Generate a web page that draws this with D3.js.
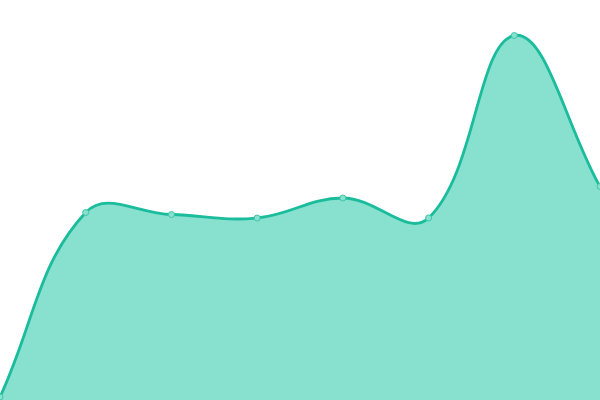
<!DOCTYPE html>
<html><head><meta charset="utf-8">
<script src="https://cdn.jsdelivr.net/npm/d3@7"></script>
<style>html,body{margin:0;padding:0;background:#fff;}svg{display:block;}</style>
</head><body>
<svg id="chart" width="600" height="400"></svg>
<script>
const categories = ["A","B","C","D","E","F","G","H"];
const values = [3, 187.5, 185.5, 182, 202, 182, 364.5, 213.5];

const W = 600, H = 400;
const TENSION = 0.4;
const svg = d3.select("#chart");
const x = d3.scalePoint().domain(categories).range([0, W]);
const y = d3.scaleLinear().domain([0, 400]).range([H, 0]);
const pts = categories.map((c,i)=>({x: x(c), y: y(values[i])}));

// spline control points weighted by neighbour distances
function controls(p) {
  const n = p.length;
  return p.map((cur, i) => {
    const prev = p[Math.max(i-1, 0)], next = p[Math.min(i+1, n-1)];
    const d01 = Math.hypot(cur.x-prev.x, cur.y-prev.y);
    const d12 = Math.hypot(next.x-cur.x, next.y-cur.y);
    let s01 = d01/(d01+d12), s12 = d12/(d01+d12);
    if (isNaN(s01)) s01 = 0; if (isNaN(s12)) s12 = 0;
    const fa = TENSION*s01, fb = TENSION*s12;
    const clampY = v => Math.max(0, Math.min(H, v));
    const clampX = v => Math.max(0, Math.min(W, v));
    return {
      px: clampX(cur.x - fa*(next.x-prev.x)), py: clampY(cur.y - fa*(next.y-prev.y)),
      nx: clampX(cur.x + fb*(next.x-prev.x)), ny: clampY(cur.y + fb*(next.y-prev.y))
    };
  });
}
const cp = controls(pts);
function linePath(closeArea) {
  const p = d3.path();
  p.moveTo(pts[0].x, pts[0].y);
  for (let i = 1; i < pts.length; i++) {
    p.bezierCurveTo(cp[i-1].nx, cp[i-1].ny, cp[i].px, cp[i].py, pts[i].x, pts[i].y);
  }
  if (closeArea) {
    p.lineTo(pts[pts.length-1].x, y(0));
    p.lineTo(pts[0].x, y(0));
    p.closePath();
  }
  return p.toString();
}

svg.append("path").attr("d", linePath(true)).attr("fill", "#88e0cf");
svg.append("path").attr("d", linePath(false))
  .attr("fill", "none").attr("stroke", "#1abc9c").attr("stroke-width", 2.8);
svg.selectAll("circle").data(pts).enter().append("circle")
  .attr("cx", d=>d.x).attr("cy", d=>d.y).attr("r", 3)
  .attr("fill", "#88e0cf").attr("stroke", "#3cc7a8").attr("stroke-width", 1);
</script>
</body></html>
